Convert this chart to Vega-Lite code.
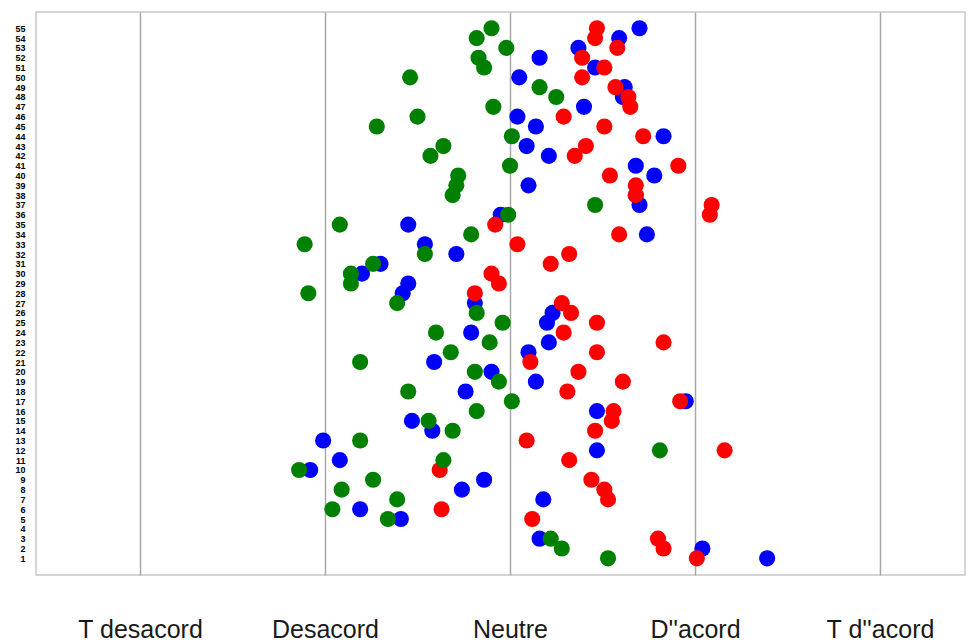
{
  "$schema": "https://vega.github.io/schema/vega-lite/v6.json",
  "autosize": {"type": "none"},
  "width": 929,
  "height": 563,
  "padding": {"left": 36, "top": 12, "right": 7, "bottom": 68},
  "background": "white",
  "config": {"view": {"stroke": "#c8c8c8", "strokeWidth": 1.5}},
  "data": {"values": [
    {"n": 1, "B": 4.39, "R": 4.01, "G": 3.53},
    {"n": 2, "B": 4.04, "R": 3.83, "G": 3.28},
    {"n": 3, "B": 3.16, "R": 3.80, "G": 3.22},
    {"n": 5, "B": 2.41, "R": 3.12, "G": 2.34},
    {"n": 6, "B": 2.19, "R": 2.63, "G": 2.04},
    {"n": 7, "B": 3.18, "R": 3.53, "G": 2.39},
    {"n": 8, "B": 2.74, "R": 3.51, "G": 2.09},
    {"n": 9, "B": 2.86, "R": 3.44, "G": 2.26},
    {"n": 10, "B": 1.92, "R": 2.62, "G": 1.86},
    {"n": 11, "B": 2.08, "R": 3.32, "G": 2.64},
    {"n": 12, "B": 3.47, "R": 4.16, "G": 3.81},
    {"n": 13, "B": 1.99, "R": 3.09, "G": 2.19},
    {"n": 14, "B": 2.58, "R": 3.46, "G": 2.69},
    {"n": 15, "B": 2.47, "R": 3.55, "G": 2.56},
    {"n": 16, "B": 3.47, "R": 3.56, "G": 2.82},
    {"n": 17, "B": 3.95, "R": 3.92, "G": 3.01},
    {"n": 18, "B": 2.76, "R": 3.31, "G": 2.45},
    {"n": 19, "B": 3.14, "R": 3.61, "G": 2.94},
    {"n": 20, "B": 2.90, "R": 3.37, "G": 2.81},
    {"n": 21, "B": 2.59, "R": 3.11, "G": 2.19},
    {"n": 22, "B": 3.10, "R": 3.47, "G": 2.68},
    {"n": 23, "B": 3.21, "R": 3.83, "G": 2.89},
    {"n": 24, "B": 2.79, "R": 3.29, "G": 2.60},
    {"n": 25, "B": 3.20, "R": 3.47, "G": 2.96},
    {"n": 26, "B": 3.23, "R": 3.33, "G": 2.82},
    {"n": 27, "B": 2.81, "R": 3.28, "G": 2.39},
    {"n": 28, "B": 2.42, "R": 2.81, "G": 1.91},
    {"n": 29, "B": 2.45, "R": 2.94, "G": 2.14},
    {"n": 30, "B": 2.20, "R": 2.90, "G": 2.14},
    {"n": 31, "B": 2.30, "R": 3.22, "G": 2.26},
    {"n": 32, "B": 2.71, "R": 3.32, "G": 2.54},
    {"n": 33, "B": 2.54, "R": 3.04, "G": 1.89},
    {"n": 34, "B": 3.74, "R": 3.59, "G": 2.79},
    {"n": 35, "B": 2.45, "R": 2.92, "G": 2.08},
    {"n": 36, "B": 2.95, "R": 4.08, "G": 2.99},
    {"n": 37, "B": 3.70, "R": 4.09, "G": 3.46},
    {"n": 38, "B": 3.68, "R": 3.68, "G": 2.69},
    {"n": 39, "B": 3.10, "R": 3.68, "G": 2.71},
    {"n": 40, "B": 3.78, "R": 3.54, "G": 2.72},
    {"n": 41, "B": 3.68, "R": 3.91, "G": 3.00},
    {"n": 42, "B": 3.21, "R": 3.35, "G": 2.57},
    {"n": 43, "B": 3.09, "R": 3.41, "G": 2.64},
    {"n": 44, "B": 3.83, "R": 3.72, "G": 3.01},
    {"n": 45, "B": 3.14, "R": 3.51, "G": 2.28},
    {"n": 46, "B": 3.04, "R": 3.29, "G": 2.50},
    {"n": 47, "B": 3.40, "R": 3.65, "G": 2.91},
    {"n": 48, "B": 3.61, "R": 3.64, "G": 3.25},
    {"n": 49, "B": 3.62, "R": 3.57, "G": 3.16},
    {"n": 50, "B": 3.05, "R": 3.39, "G": 2.46},
    {"n": 51, "B": 3.46, "R": 3.51, "G": 2.86},
    {"n": 52, "B": 3.16, "R": 3.39, "G": 2.83},
    {"n": 53, "B": 3.37, "R": 3.58, "G": 2.98},
    {"n": 54, "B": 3.59, "R": 3.46, "G": 2.82},
    {"n": 55, "B": 3.70, "R": 3.47, "G": 2.90}
  ]},
  "encoding": {
    "y": {
      "field": "n", "type": "quantitative",
      "scale": {"domain": [-0.7, 56.66], "nice": false, "zero": false},
      "axis": {
        "title": null,
        "values": [1,2,3,4,5,6,7,8,9,10,11,12,13,14,15,16,17,18,19,20,21,22,23,24,25,26,27,28,29,30,31,32,33,34,35,36,37,38,39,40,41,42,43,44,45,46,47,48,49,50,51,52,53,54,55],
        "grid": false, "ticks": false, "domain": false,
        "labelOverlap": false, "labelFlush": false, "labelBound": false,
        "labelFont": "Liberation Sans", "labelFontSize": 9, "labelFontWeight": "bold",
        "labelColor": "#000000", "labelPadding": 11
      }
    }
  },
  "layer": [
    {
      "mark": {"type": "point", "filled": true, "opacity": 1, "size": 260, "color": "#0000ff", "shape": "circle"},
      "encoding": {
        "x": {
          "field": "B", "type": "quantitative",
          "scale": {"domain": [0.4378, 5.4595], "nice": false, "zero": false},
          "axis": {
            "title": null, "values": [1,2,3,4,5],
            "grid": true, "gridColor": "#a8a8a8", "gridWidth": 1.5,
            "ticks": false, "domain": false, "labelFlush": false,
            "labelExpr": "datum.value == 1 ? 'T desacord' : datum.value == 2 ? 'Desacord' : datum.value == 3 ? 'Neutre' : datum.value == 4 ? \"D''acord\" : \"T d''acord\"",
            "labelFont": "Liberation Sans", "labelFontSize": 25, "labelColor": "#1a1a1a",
            "labelBaseline": "alphabetic", "labelPadding": 62
          }
        }
      }
    },
    {
      "mark": {"type": "point", "filled": true, "opacity": 1, "size": 260, "color": "#ff0000", "shape": "circle"},
      "encoding": {"x": {"field": "R", "type": "quantitative"}}
    },
    {
      "mark": {"type": "point", "filled": true, "opacity": 1, "size": 260, "color": "#008000", "shape": "circle"},
      "encoding": {"x": {"field": "G", "type": "quantitative"}}
    }
  ]
}
